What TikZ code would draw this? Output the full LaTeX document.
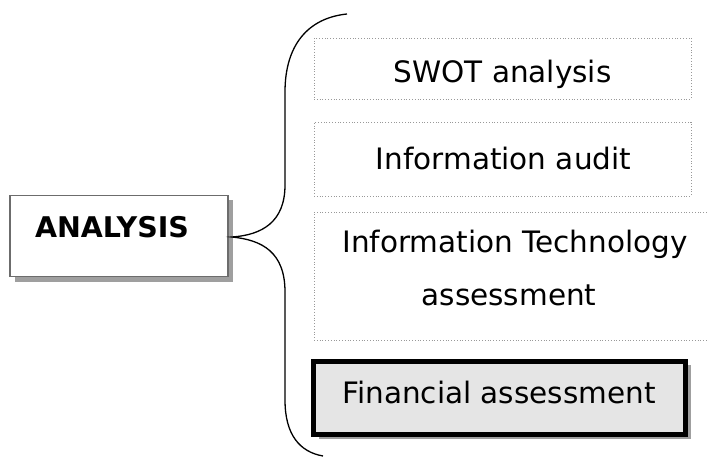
\documentclass[tikz,border=0pt]{standalone}
\usepackage{fontspec}
\setmainfont{DejaVu Sans}
\usetikzlibrary{shadows}
\begin{document}
\begin{tikzpicture}[x=1pt,y=-1pt,
  dotbox/.style={draw=gray!80, dotted, line width=0.8pt, inner sep=0pt},
  lbl/.style={anchor=base, inner sep=0pt, font=\fontsize{29.5}{35}\selectfont},
  mainbox/.style={draw=gray!85!black, line width=1.2pt, fill=white, inner sep=0pt,
     drop shadow={shadow xshift=5pt, shadow yshift=-5pt, fill=gray!75, opacity=1}},
  finbox/.style={draw=black, line width=5pt, fill=black!10, inner sep=0pt,
     drop shadow={shadow xshift=5pt, shadow yshift=-4pt, fill=gray!75, opacity=1}},
  bracepath/.style={draw=black, line width=1.3pt}]
\useasboundingbox (0,0) rectangle (709,457);
% left box
\node[mainbox, minimum width=218pt, minimum height=81pt] (analysis) at (119,236) {};
\node[anchor=base, inner sep=0pt, font=\fontsize{28.5}{34}\selectfont\bfseries] (analysistxt) at (112,237) {ANALYSIS};
% brace
\coordinate (tip) at (232,237);
\coordinate (top) at (347,14);
\coordinate (bot) at (323,456);
\draw[bracepath] (top) .. controls (308,18) and (285,45) .. (285,92) -- (285,185)
   .. controls (285,222) and (262,235) .. (tip)
   .. controls (262,240) and (285,252) .. (285,292) -- (285,400)
   .. controls (285,435) and (300,452) .. (bot);
% right boxes
\node[dotbox, minimum width=377pt, minimum height=61pt] (swot) at (502.5,68.5) {};
\node[lbl] (swottxt) at (502.5,82.5) {SWOT analysis};
\node[dotbox, minimum width=377pt, minimum height=74pt] (audit) at (502.5,159) {};
\node[lbl] (audittxt) at (503.5,170) {Information audit};
\node[dotbox, minimum width=397pt, minimum height=128pt] (it) at (512.5,276) {};
\node[lbl] (ittxt1) at (515,252) {Information Technology};
\node[lbl] (ittxt2) at (509,305) {assessment};
\node[finbox, minimum width=372pt, minimum height=73.5pt] (fin) at (499.5,397.75) {};
\node[lbl] (fintxt) at (499,403) {Financial assessment};
\end{tikzpicture}
\end{document}
